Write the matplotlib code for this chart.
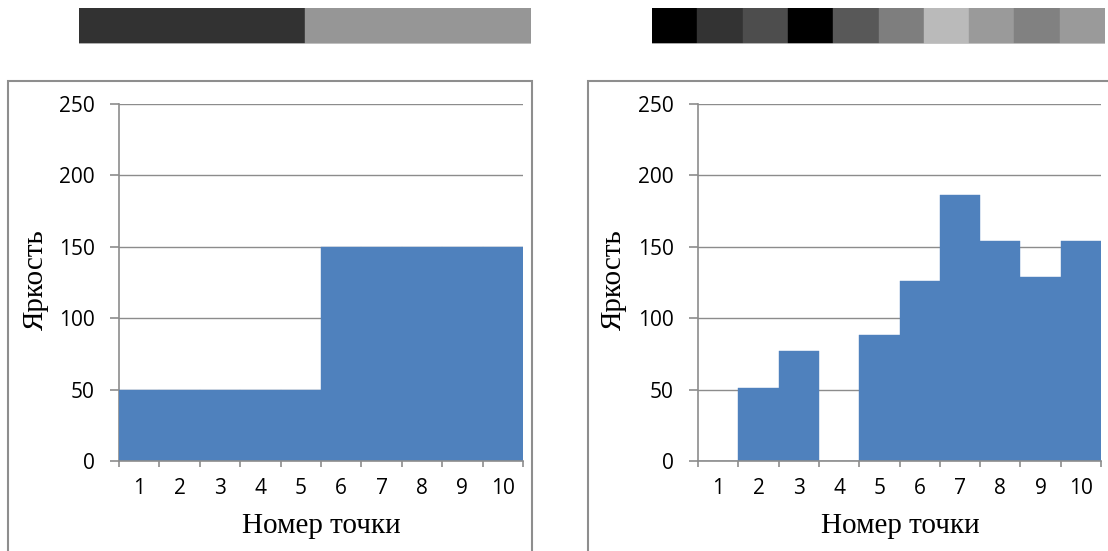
import matplotlib
matplotlib.use("Agg")
import matplotlib.pyplot as plt
from matplotlib.patches import Rectangle

# Brightness of each point in two rows of pixels
points = list(range(1, 11))
brightness_left = [50, 50, 50, 50, 50, 150, 150, 150, 150, 150]
brightness_right = [0, 51, 77, 0, 88, 126, 186, 154, 129, 154]
y_ticks = [0, 50, 100, 150, 200, 250]
x_label = "Номер точки"
y_label = "Яркость"

BAR_COLOR = "#4F81BD"
GRID_COLOR = "#8C8C8C"
TICK_FONT = ["Open Sans", "DejaVu Sans"]
TITLE_FONT = ["Liberation Serif", "DejaVu Serif"]

W, H = 1108, 551
fig = plt.figure(figsize=(W / 100, H / 100), dpi=100)


def frac(x0, y0, x1, y1):
    """Pixel box (top-left origin) -> figure fraction rect."""
    return [x0 / W, (H - y1) / H, (x1 - x0) / W, (y1 - y0) / H]


def draw_strip(rect, values):
    ax = fig.add_axes(rect)
    for i, v in enumerate(values):
        g = v / 255.0
        ax.bar(i, 1, width=1.0, bottom=0, color=(g, g, g),
               edgecolor=(g, g, g), linewidth=0.3, align="edge")
    ax.axhline(0, color="#C8C8C8", linewidth=1.2)
    ax.set_xlim(0, len(values))
    ax.set_ylim(0, 1)
    ax.axis("off")


def draw_chart(rect, values):
    ax = fig.add_axes(rect)
    ax.bar(points, values, width=1.0, color=BAR_COLOR,
           edgecolor=BAR_COLOR, linewidth=0.3, zorder=3)
    ax.set_xlim(0.5, 10.5)
    ax.set_ylim(0, 250)
    ax.set_yticks(y_ticks)
    ax.grid(axis="y", color=GRID_COLOR, linewidth=1.0, zorder=0)
    ax.set_axisbelow(True)
    for s in ("top", "right"):
        ax.spines[s].set_visible(False)
    ax.spines["left"].set_color(GRID_COLOR)
    ax.spines["bottom"].set_color(GRID_COLOR)
    ax.spines["left"].set_linewidth(1.2)
    ax.spines["bottom"].set_linewidth(1.2)
    ax.spines["bottom"].set_zorder(4)
    # category boundaries carry the tick marks; labels sit at centres
    ax.set_xticks([p + 0.5 for p in [0] + points])
    ax.set_xticklabels([])
    ax.set_xticks(points, minor=True)
    ax.set_xticklabels([str(p) for p in points], minor=True,
                       fontfamily=TICK_FONT, fontsize=15)
    ax.tick_params(axis="x", which="major", length=4, width=1.2,
                   color=GRID_COLOR, direction="out")
    ax.tick_params(axis="x", which="minor", length=0, pad=12)
    ax.tick_params(axis="y", length=6.5, width=1.2, color=GRID_COLOR,
                   direction="out", pad=11)
    for t in ax.get_yticklabels():
        t.set_fontfamily(TICK_FONT)
        t.set_fontsize(15)
    return ax


# Outer chart frames
frame_color = "#8E8E8E"
fig.patches.append(Rectangle((8 / W, -0.05), (532 - 8) / W,
                             (H - 81) / H + 0.05, transform=fig.transFigure,
                             fill=False, edgecolor=frame_color, linewidth=1.5))
fig.patches.append(Rectangle((588 / W, -0.05), 0.5,
                             (H - 81) / H + 0.05, transform=fig.transFigure,
                             fill=False, edgecolor=frame_color, linewidth=1.5))

draw_strip(frac(79, 8, 531, 44), brightness_left)
draw_strip(frac(652, 8, 1105, 44), brightness_right)

ax1 = draw_chart(frac(119, 104, 523, 461), brightness_left)
ax2 = draw_chart(frac(698, 104, 1101, 461), brightness_right)

for ax, xc, yc in ((ax1, 321, 36), (ax2, 900, 614)):
    fig.text(xc / W, (H - 526) / H, x_label, ha="center", va="center",
             fontfamily=TITLE_FONT, fontsize=21)
    fig.text(yc / W, (H - 280) / H, y_label, ha="center", va="center",
             rotation=90, fontfamily=TITLE_FONT, fontsize=21)

fig.savefig("out.png", dpi=100)
